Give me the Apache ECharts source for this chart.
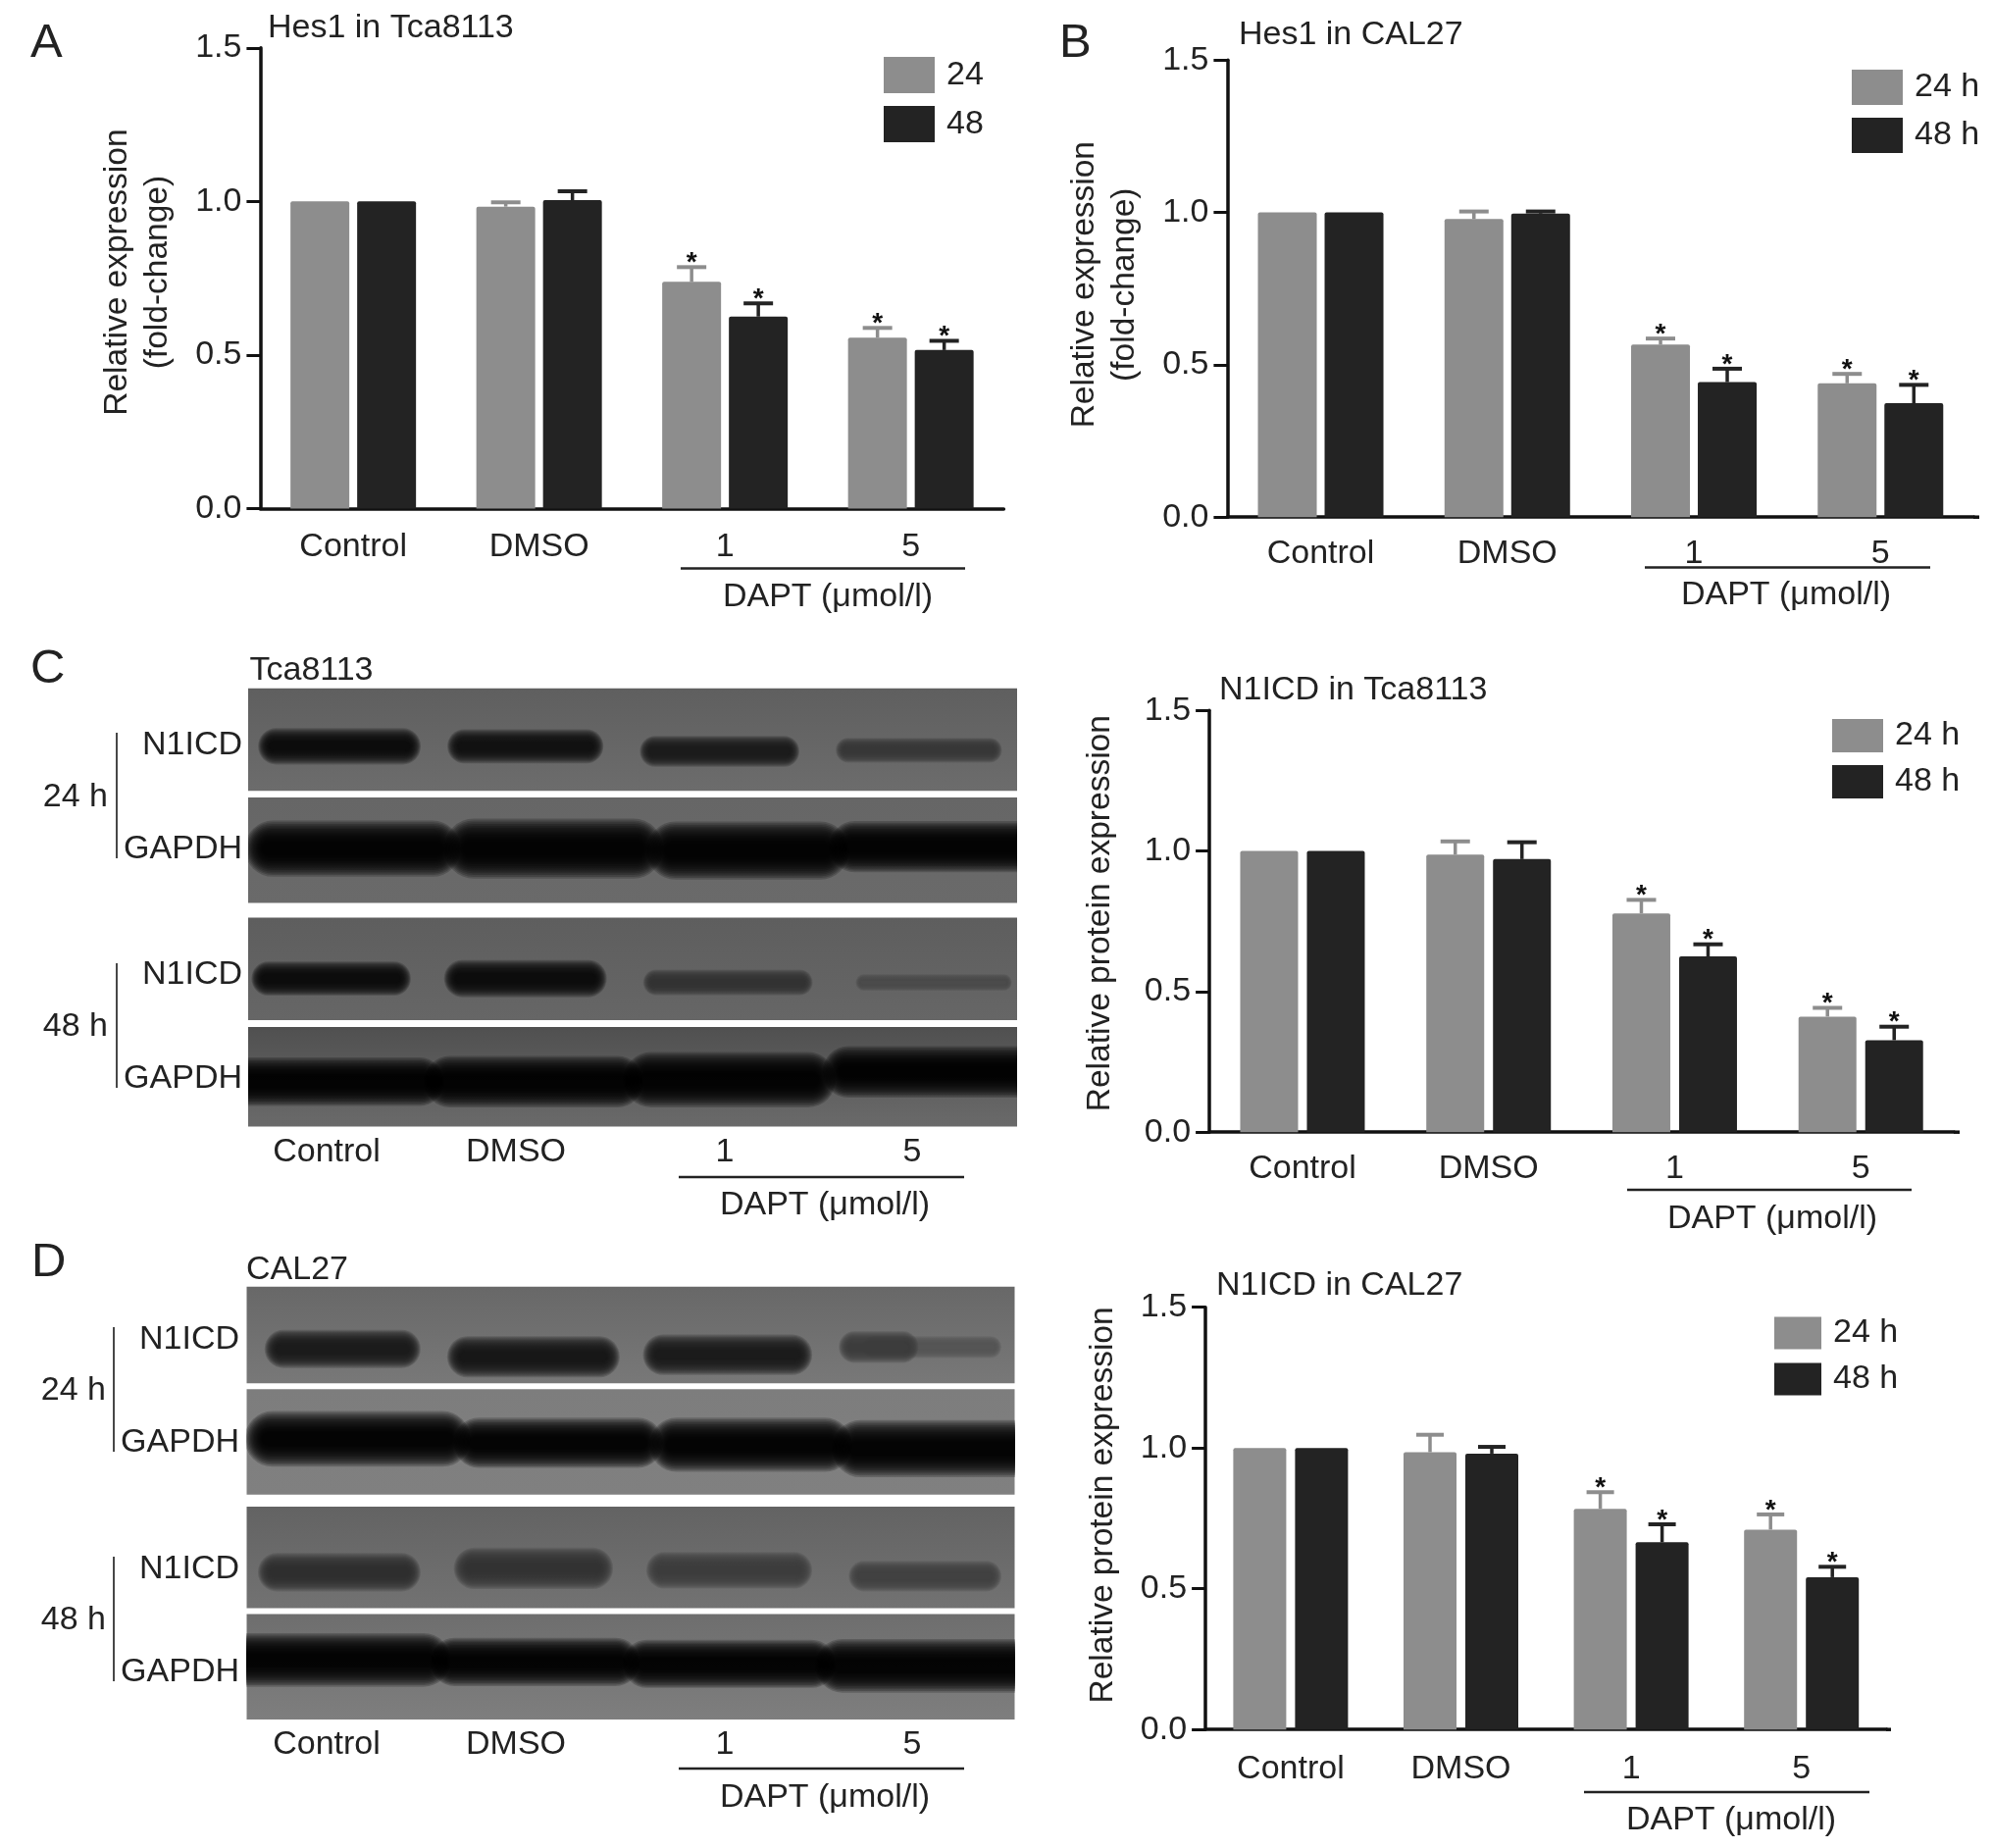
<!DOCTYPE html>
<html><head><meta charset="utf-8">
<style>html,body{margin:0;padding:0;background:#fff}#c{width:2032px;height:1884px}</style>
<script src="https://cdn.jsdelivr.net/npm/echarts@6/dist/echarts.min.js"></script>
</head><body><div id="c"></div>
<script>
// ---------- data ----------
const categories = ['Control', 'DMSO', '1', '5'];
const hes1Tca24 = [1.0, 0.983, 0.738, 0.556];
const hes1Tca24Top = [null, 0.997, 0.786, 0.588];
const hes1Tca48 = [1.0, 1.004, 0.625, 0.516];
const hes1Tca48Top = [null, 1.033, 0.668, 0.546];
const hes1Cal24 = [1.0, 0.978, 0.566, 0.439];
const hes1Cal24Top = [null, 1.003, 0.586, 0.47];
const hes1Cal48 = [1.0, 0.996, 0.443, 0.374];
const hes1Cal48Top = [null, 1.003, 0.487, 0.434];
const n1Tca24 = [1.0, 0.987, 0.778, 0.411];
const n1Tca24Top = [null, 1.034, 0.826, 0.442];
const n1Tca48 = [1.0, 0.971, 0.625, 0.327];
const n1Tca48Top = [null, 1.031, 0.668, 0.375];
const n1Cal24 = [1.0, 0.985, 0.784, 0.71];
const n1Cal24Top = [null, 1.047, 0.843, 0.764];
const n1Cal48 = [1.0, 0.98, 0.665, 0.541];
const n1Cal48Top = [null, 1.004, 0.729, 0.578];
const starred = [false, false, true, true];
const yTicks = {min: 0, max: 1.5, interval: 0.5};
// blot bands: [lane start, lane end, migration, thickness, grey level] in membrane units
const blotC1 = [[390,635,305,94,12],[675,910,305,88,14],[965,1205,318,80,26],[1260,1510,315,64,56]];
const blotC2 = [[370,695,570,145,0],[670,1000,570,155,0],[975,1280,575,150,0],[1250,1600,565,132,0]];
const blotC3 = [[380,620,905,88,10],[670,915,905,96,8],[970,1225,915,66,48],[1290,1525,915,42,76]];
const blotC4 = [[320,670,1170,124,0],[640,970,1170,132,0],[940,1260,1165,142,0],[1240,1600,1145,132,0]];
const blotD1 = [[400,635,290,98,24],[675,935,310,106,20],[970,1225,305,104,24],[1300,1510,285,56,84],[1265,1385,285,82,58]];
const blotD2 = [[370,710,520,142,0],[685,1000,530,128,0],[980,1285,535,138,0],[1255,1600,545,146,0]];
const blotD3 = [[390,635,860,98,44],[685,925,850,106,50],[975,1225,855,94,58],[1280,1510,870,78,66]];
const blotD4 = [[320,680,1085,138,0],[650,965,1090,124,0],[940,1260,1095,124,0],[1230,1600,1100,138,0]];

// ---------- layout and style ----------
const FONT = '"Liberation Sans", Arial, sans-serif';
const TXT = '#222';
const GREY = '#8d8d8d', DARK = '#232323';
const FS = 34;
const panels = [
 {l:265.4, t:48.8, w:758, h:469.6, s:[hes1Tca24,hes1Tca24Top,hes1Tca48,hes1Tca48Top], bw:60, gap:8, names:['24','48'], margin:22,
  yname:'Relative expression\n(fold-change)', ngap:84, npad:[0,0,0,12], cap:30,
  title:'Hes1 in Tca8113', tx:268, ty:7, leg:{left:896, top:53, iw:52, ih:37, g:13}},
 {l:1251.4, t:61.2, w:761, h:466, s:[hes1Cal24,hes1Cal24Top,hes1Cal48,hes1Cal48Top], bw:60, gap:8, names:['24 h','48 h'], margin:20,
  yname:'Relative expression\n(fold-change)', ngap:84, npad:[0,0,0,8], cap:30,
  title:'Hes1 in CAL27', tx:1258, ty:14, leg:{left:1883, top:66, iw:52, ih:36, g:13}},
 {l:1233.1, t:724.2, w:759, h:430, s:[n1Tca24,n1Tca24Top,n1Tca48,n1Tca48Top], bw:59, gap:9, names:['24 h','48 h'], margin:20,
  yname:'Relative protein expression', ngap:90.5, npad:[0,0,0,16], cap:30,
  title:'N1ICD in Tca8113', tx:1238, ty:682, leg:{left:1863, top:728, iw:52, ih:34, g:13}},
 {l:1229.1, t:1332.7, w:694.4, h:430.5, s:[n1Cal24,n1Cal24Top,n1Cal48,n1Cal48Top], bw:54, gap:9, names:['24 h','48 h'], margin:23,
  yname:'Relative protein expression', ngap:83.5, npad:[0,0,0,27], cap:28,
  title:'N1ICD in CAL27', tx:1235, ty:1289, leg:{left:1804, top:1337, iw:48, ih:33, g:13}}
];
const blots = [
 {d:blotC1, x:[375,1533], y:[155,420], l:253, t:701.7, w:784, h:104.5, bg:['#5f5f5f','#6c6c6c']},
 {d:blotC2, x:[375,1533], y:[438,710], l:253, t:813, w:784, h:107.5, bg:['#666666','#6a6a6a']},
 {d:blotC3, x:[375,1533], y:[748,1012], l:253, t:935.5, w:784, h:104.5, bg:['#5e5e5e','#666666']},
 {d:blotC4, x:[375,1533], y:[1030,1285], l:253, t:1047, w:784, h:101.5, bg:['#505050','#6a6a6a']},
 {d:blotD1, x:[373,1530], y:[130,378], l:251.5, t:1311.7, w:783, h:98.5, bg:['#686868','#787878']},
 {d:blotD2, x:[373,1530], y:[393,662], l:251.5, t:1416.2, w:783, h:107.5, bg:['#7d7d7d','#808080']},
 {d:blotD3, x:[373,1530], y:[692,952], l:251.5, t:1536, w:783, h:103.5, bg:['#636363','#727272']},
 {d:blotD4, x:[373,1530], y:[967,1238], l:251.5, t:1645.5, w:783, h:107.5, bg:['#6e6e6e','#7e7e7e']}
];
const bandLayers = [0,0.03,0.06,0.09,0.12,0.15,0.18,0.21,0.24,0.27,0.30,0.33,0.36,0.39];

const grid=[], xAxis=[], yAxis=[], series=[], legend=[], title=[];
panels.forEach((p,i)=>{
  grid.push({left:p.l, top:p.t, width:p.w, height:p.h});
  xAxis.push({type:'category', gridIndex:i, data:categories,
    axisLine:{lineStyle:{color:'#111', width:3.5}},
    axisTick:{alignWithLabel:true, length:15, lineStyle:{color:'#111', width:3}},
    axisLabel:{fontFamily:FONT, fontSize:FS, color:TXT, margin:p.margin}});
  yAxis.push({type:'value', gridIndex:i, min:yTicks.min, max:yTicks.max, interval:yTicks.interval,
    name:p.yname, nameLocation:'middle', nameGap:p.ngap,
    nameTextStyle:{fontFamily:FONT, fontSize:33.5, color:TXT, lineHeight:41, padding:p.npad},
    axisLine:{show:true, lineStyle:{color:'#111', width:3.5}},
    axisTick:{show:true, length:14, lineStyle:{color:'#111', width:3}},
    splitLine:{show:false},
    axisLabel:{fontFamily:FONT, fontSize:FS, color:TXT, margin:19, formatter:v=>v.toFixed(1)}});
  title.push({text:p.title, left:p.tx, top:p.ty, textStyle:{fontFamily:FONT, fontSize:FS, fontWeight:'normal', color:TXT}});
  legend.push({data:p.names, left:p.leg.left, top:p.leg.top, orient:'vertical', itemWidth:p.leg.iw, itemHeight:p.leg.ih,
    itemGap:p.leg.g, icon:'rect', selectedMode:false,
    textStyle:{fontFamily:FONT, fontSize:FS, color:TXT, padding:[0,0,0,7]}});
  [0,1].forEach(k=>{
    const color = k===0?GREY:DARK;
    series.push({type:'bar', name:p.names[k], xAxisIndex:i, yAxisIndex:i, data:p.s[k*2], barWidth:p.bw, barGap:(p.gap/p.bw*100)+'%',
      itemStyle:{color:color, borderRadius:[2,2,0,0]}, silent:true, z:2});
    const off=(k===0?-1:1)*(p.bw+p.gap)/2;
    series.push({type:'custom', name:'err'+i+k, xAxisIndex:i, yAxisIndex:i, z:1, silent:true,
      data:categories.map((c,j)=>[j, p.s[k*2][j], p.s[k*2+1][j]===null?p.s[k*2][j]:p.s[k*2+1][j], starred[j]?1:0]),
      encode:{x:0,y:[1,2]},
      renderItem:(params,api)=>{
        const a=api.coord([api.value(0),api.value(1)]), b=api.coord([api.value(0),api.value(2)]);
        const x=a[0]+off, kids=[];
        if(api.value(2)>api.value(1)){
          kids.push({type:'line',shape:{x1:x,y1:a[1],x2:x,y2:b[1]},style:{stroke:color,lineWidth:3.5}});
          kids.push({type:'line',shape:{x1:x-p.cap/2,y1:b[1],x2:x+p.cap/2,y2:b[1]},style:{stroke:color,lineWidth:4}});
        }
        if(api.value(3)) kids.push({type:'text',style:{text:'*',x:x,y:b[1]-4,fill:'#111',font:'bold 28px '+FONT,align:'center',verticalAlign:'middle'}});
        return {type:'group',children:kids};
      }});
  });
});
blots.forEach((b,n)=>{
  const i=panels.length+n;
  grid.push({left:b.l, top:b.t, width:b.w, height:b.h, show:true, borderWidth:0,
    backgroundColor:new echarts.graphic.LinearGradient(0,0,0,1,[{offset:0,color:b.bg[0]},{offset:1,color:b.bg[1]}])});
  xAxis.push({type:'value', gridIndex:i, min:b.x[0], max:b.x[1], show:false});
  yAxis.push({type:'value', gridIndex:i, min:b.y[0], max:b.y[1], inverse:true, show:false});
  series.push({type:'custom', name:'blot'+n, xAxisIndex:i, yAxisIndex:i, silent:true, clip:true, data:b.d,
    encode:{x:[0,1],y:2},
    renderItem:(params,api)=>{
      const s=api.coord([api.value(0),api.value(2)-api.value(3)/2]);
      const e=api.coord([api.value(1),api.value(2)+api.value(3)/2]);
      const g=api.value(4);
      const h=e[1]-s[1], w=e[0]-s[0];
      // a soft band: many faint concentric layers darken toward the core
      const kids=bandLayers.map(t=>{
        const iy=t*h, ix=t*h*0.8, rh=h-iy*2;
        return {type:'rect',shape:{x:s[0]+ix,y:s[1]+iy,width:w-ix*2,height:rh,r:rh/2},
          style:{fill:'rgba('+g+','+g+','+g+',0.2)'}};
      });
      return {type:'group',children:kids};
    }});
});

// ---------- annotations ----------
const graphic=[];
function T(text,x,y,opt){opt=opt||{};graphic.push({type:'text',x:x,y:y,silent:true,z:20,style:{text:text,fontFamily:FONT,fontSize:opt.fs||FS,fill:TXT,align:opt.align||'left',verticalAlign:'middle'}});}
function L(x1,y1,x2,y2,w,c){graphic.push({type:'line',silent:true,z:20,shape:{x1,y1,x2,y2},style:{stroke:c||'#222',lineWidth:w||2.5}});}
T('A',31,44,{fs:49}); T('B',1080,44,{fs:49}); T('C',31,682,{fs:49}); T('D',32,1287,{fs:49});
// DAPT brackets under every lane group
[[694,984,579.5,844,609],[1677,1968,578.5,1821,607],[1659,1949,1213,1807,1243],[1615,1906,1827,1765,1856],
 [692,983,1200,841,1229],[692,983,1803,841,1833]].forEach(r=>{L(r[0],r[2],r[1],r[2],2.5);T('DAPT (\u03bcmol/l)',r[3],r[4],{align:'center'});});
// x-axis runs a little past the last band in B, C, D
L(2012,527.2,2018,527.2,3.5,'#111'); L(1992,1154.2,1998,1154.2,3.5,'#111'); L(1923,1763.2,1928,1763.2,3.5,'#111');
// blot labels
const laneX=[333,526,739,930];
T('Tca8113',254.5,684); T('CAL27',251,1295);
[[1175],[1779]].forEach(r=>categories.forEach((c,j)=>T(c,laneX[j],r[0],{align:'center'})));
[[247,760,866,994,1100,110,813,1047,119,747,875,982,1109],[244,1366,1471,1600,1705,108,1418,1652,116,1353,1480,1587,1714]].forEach(r=>{
  T('N1ICD',r[0],r[1],{align:'right'}); T('GAPDH',r[0],r[2],{align:'right'});
  T('N1ICD',r[0],r[3],{align:'right'}); T('GAPDH',r[0],r[4],{align:'right'});
  T('24 h',r[5],r[6],{align:'right'}); T('48 h',r[5],r[7],{align:'right'});
  L(r[8],r[9],r[8],r[10],1.8,'#333'); L(r[8],r[11],r[8],r[12],1.8,'#333');
});

const chart=echarts.init(document.getElementById('c'),null,{renderer:'canvas'});
chart.setOption({animation:false, backgroundColor:'#fff', grid, xAxis, yAxis, series, legend, title, graphic, tooltip:{show:false}});
</script></body></html>
